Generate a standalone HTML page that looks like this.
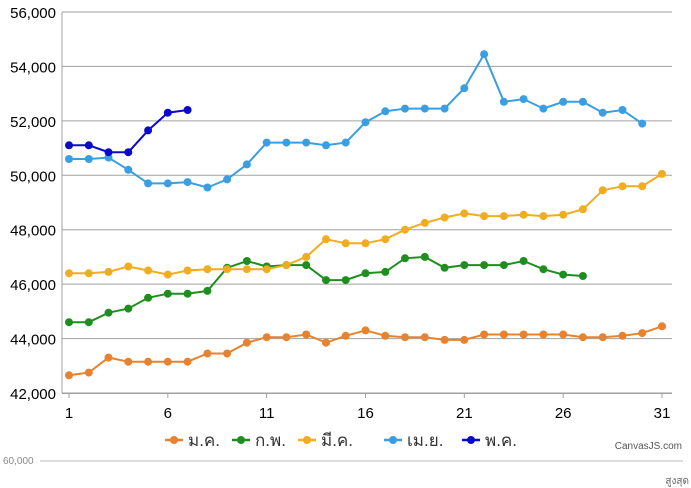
<!DOCTYPE html>
<html><head><meta charset="utf-8"><style>
body{margin:0;background:#fff;width:691px;height:488px;overflow:hidden}
svg{display:block;font-family:"Liberation Sans","DejaVu Sans","Noto Sans CJK SC",sans-serif}
</style></head><body>
<svg id="s" width="691" height="488" xmlns="http://www.w3.org/2000/svg"></svg>
<script>
const s=document.getElementById('s');
const X0=69,DX=(662-69)/30,Y=v=>393-(v-42)*(381/14);
let h='';
for(let v=42;v<=56;v+=2){const y=Y(v);h+=`<line x1="62" x2="672" y1="${y}" y2="${y}" stroke="#a0a0a0" stroke-width="1"/>`;
h+=`<text x="56" y="${y+6}" font-size="15" text-anchor="end" fill="#000">${v},000</text>`;}
h+=`<line x1="62" x2="62" y1="12" y2="393" stroke="#a0a0a0"/>`;
h+=`<line x1="62" x2="672" y1="393.5" y2="393.5" stroke="#a0a0a0"/>`;
[1,6,11,16,21,26,31].forEach(d=>{const x=X0+(d-1)*DX;h+=`<line x1="${x}" x2="${x}" y1="393" y2="398" stroke="#a0a0a0"/><text x="${x}" y="418" font-size="15" text-anchor="middle">${d}</text>`});
const S=[
['#e8822f',[42.65,42.75,43.3,43.15,43.15,43.15,43.15,43.45,43.45,43.85,44.05,44.05,44.15,43.85,44.1,44.3,44.1,44.05,44.05,43.95,43.95,44.15,44.15,44.15,44.15,44.15,44.05,44.05,44.1,44.2,44.45]],
['#1e8f1e',[44.6,44.6,44.95,45.1,45.5,45.65,45.65,45.75,46.6,46.85,46.65,46.7,46.7,46.15,46.15,46.4,46.45,46.95,47.0,46.6,46.7,46.7,46.7,46.85,46.55,46.35,46.3]],
['#f2ac1f',[46.4,46.4,46.45,46.65,46.5,46.35,46.5,46.55,46.55,46.55,46.55,46.7,47.0,47.65,47.5,47.5,47.65,48.0,48.25,48.45,48.6,48.5,48.5,48.55,48.5,48.55,48.75,49.45,49.6,49.6,50.05]],
['#3a9ee0',[50.6,50.6,50.65,50.2,49.7,49.7,49.75,49.55,49.85,50.4,51.2,51.2,51.2,51.1,51.2,51.95,52.35,52.45,52.45,52.45,53.2,54.45,52.7,52.8,52.45,52.7,52.7,52.3,52.4,51.9]],
['#0a0acc',[51.1,51.1,50.85,50.85,51.65,52.3,52.4]]];
S.forEach(([c,d])=>{const p=d.map((v,i)=>`${(X0+i*DX).toFixed(1)},${Y(v).toFixed(1)}`);
h+=`<polyline points="${p.join(' ')}" fill="none" stroke="${c}" stroke-width="2"/>`;
p.forEach(q=>{const [x,y]=q.split(',');h+=`<circle cx="${x}" cy="${y}" r="4" fill="${c}"/>`})});
const L=[['ม.ค.',165],['ก.พ.',232],['มี.ค.',298],['เม.ย.',384],['พ.ค.',462]];
L.forEach(([t,x],i)=>{const c=S[i][0];h+=`<line x1="${x}" x2="${x+18}" y1="440" y2="440" stroke="${c}" stroke-width="2.5"/><circle cx="${x+9}" cy="440" r="4" fill="${c}"/><text x="${x+23}" y="446" font-size="17" fill="#333" font-family="Liberation Sans,Noto Sans CJK SC,sans-serif">${t}</text>`});
h+=`<text x="682" y="449" font-size="10" text-anchor="end" fill="#555">CanvasJS.com</text>`;
h+=`<text x="3" y="464" font-size="10" fill="#888">60,000</text><line x1="40" x2="683" y1="461" y2="461" stroke="#bbb"/>`;
h+=`<text x="689" y="484" font-size="10" text-anchor="end" fill="#666">สูงสุด</text>`;
s.innerHTML=h;
</script>
</body></html>
